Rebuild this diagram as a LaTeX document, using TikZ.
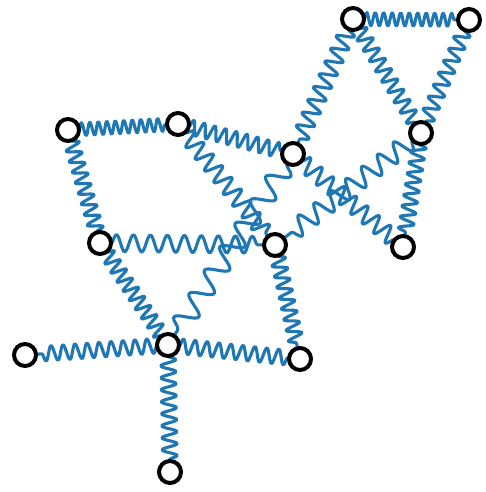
\documentclass[tikz,border=0pt]{standalone}
\usetikzlibrary{decorations.pathmorphing,backgrounds}
\definecolor{springblue}{HTML}{1F77B4}
\tikzset{
  mass/.style={circle,draw=black,fill=white,line width=4pt,minimum size=22pt,inner sep=0pt},
  spring/.style n args={2}{draw=springblue,line width=3.1pt,line join=round,
    decorate,decoration={snake,segment length=#1,amplitude=#2,pre length=11pt,post length=11pt}}
}
\begin{document}
\begin{tikzpicture}[x=1pt,y=-1pt]
\useasboundingbox (0,0) rectangle (485,492);
\node[mass] (A) at (353,19) {};
\node[mass] (B) at (469,20) {};
\node[mass] (C) at (421,133) {};
\node[mass] (D) at (293,154) {};
\node[mass] (E) at (403,247) {};
\node[mass] (F) at (68,130) {};
\node[mass] (G) at (178,124) {};
\node[mass] (H) at (100,243) {};
\node[mass] (I) at (275,245) {};
\node[mass] (J) at (168,345) {};
\node[mass] (K) at (25,355) {};
\node[mass] (L) at (300,359) {};
\node[mass] (M) at (170,472) {};
\begin{pgfonlayer}{background}
\path[spring={8.5pt}{6.5pt}] (A.center) -- (B.center);
\path[spring={12pt}{7.5pt}] (A.center) -- (C.center);
\path[spring={13pt}{7.5pt}] (B.center) -- (C.center);
\path[spring={14pt}{8.5pt}] (A.center) -- (D.center);
\path[spring={11pt}{7.5pt}] (C.center) -- (E.center);
\path[spring={20pt}{9.5pt}] (C.center) -- (I.center);
\path[spring={15pt}{8.5pt}] (D.center) -- (E.center);
\path[spring={8.5pt}{6.5pt}] (F.center) -- (G.center);
\path[spring={11pt}{7.5pt}] (F.center) -- (H.center);
\path[spring={11pt}{7.5pt}] (G.center) -- (D.center);
\path[spring={15pt}{8.5pt}] (G.center) -- (I.center);
\path[spring={28pt}{10.5pt}] (D.center) -- (J.center);
\path[spring={17pt}{8.5pt}] (H.center) -- (I.center);
\path[spring={11pt}{7.5pt}] (H.center) -- (J.center);
\path[spring={11pt}{7.5pt}] (I.center) -- (L.center);
\path[spring={12pt}{7.5pt}] (J.center) -- (K.center);
\path[spring={12pt}{7.5pt}] (J.center) -- (L.center);
\path[spring={12pt}{7.5pt}] (J.center) -- (M.center);
\end{pgfonlayer}
\end{tikzpicture}
\end{document}
